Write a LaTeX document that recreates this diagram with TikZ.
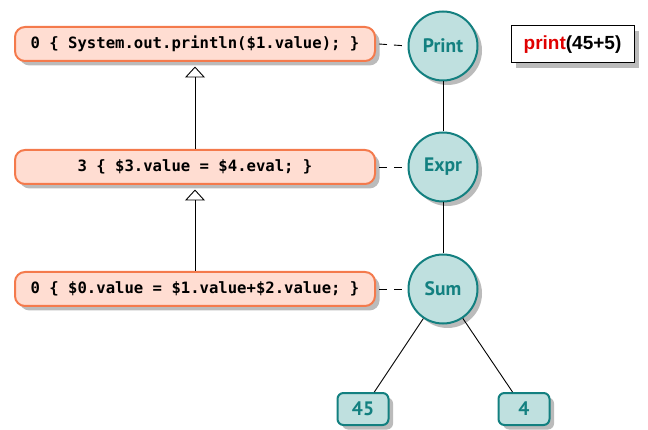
\documentclass[tikz,border=0pt]{standalone}
\usepackage{fontspec}
\setmainfont{Liberation Sans}
\newfontfamily\codefont{DejaVu Sans Mono}
\newfontfamily\nodefont{PT Sans}
\usetikzlibrary{shadows,arrows.meta,calc}
\definecolor{actfill}{HTML}{FFDDD2}
\definecolor{actedge}{HTML}{F47A4C}
\definecolor{treefill}{HTML}{BFE0DF}
\definecolor{treeedge}{HTML}{138080}
\definecolor{shade}{HTML}{BBBBBB}
\definecolor{kwred}{HTML}{E00000}
\tikzset{
  x=1pt, y=-1pt,
  myshadow/.style={drop shadow={shadow xshift=4.5pt, shadow yshift=-4.5pt, fill=shade, opacity=1}},
  action/.style={draw=actedge, fill=actfill, line width=2pt, rounded corners=10pt,
    minimum width=360pt, minimum height=34pt, inner sep=0pt, myshadow,
    font=\codefont\fontsize{15.6}{17}\selectfont\bfseries},
  treenode/.style={circle, draw=treeedge, fill=treefill, line width=2pt,
    minimum size=69pt, inner sep=0pt, myshadow, text=treeedge,
    font=\nodefont\fontsize{19.5}{21}\selectfont\bfseries},
  leaf/.style={draw=treeedge, fill=treefill, line width=2pt, rounded corners=6pt,
    minimum width=51pt, minimum height=32pt, inner sep=0pt, myshadow, text=treeedge,
    font=\nodefont\fontsize{19.5}{21}\selectfont\bfseries},
  link/.style={draw=black, line width=0.9pt},
  assoc/.style={draw=black, line width=0.9pt, dash pattern=on 8pt off 7pt},
  inherit/.style={draw=black, line width=0.9pt, -{Triangle[open, width=20pt, length=11pt]}},
}
\begin{document}
\begin{tikzpicture}
\useasboundingbox (0,0) rectangle (648,430);

% semantic actions
\node[action] (a1) at (195,44) {0 \{ System.out.println(\$1.value); \}};
\node[action] (a2) at (195,167) {3 \{ \$3.value = \$4.eval; \}};
\node[action] (a3) at (195,289) {0 \{ \$0.value = \$1.value+\$2.value; \}};

% syntax tree
\node[treenode] (print) at (443,46) {Print};
\node[treenode] (expr) at (443,167) {Expr};
\node[treenode] (sum) at (443,289) {Sum};
\node[leaf] (n45) at (363,409) {45};
\node[leaf] (n4) at (524,409) {4};

% source snippet
\node[draw=black, fill=white, line width=1pt, minimum width=123pt, minimum height=37pt,
  inner sep=0pt, drop shadow={shadow xshift=5pt, shadow yshift=-5pt, fill=shade, opacity=1},
  font=\fontsize{19}{21}\selectfont\bfseries] (src) at (572.5,44.5)
  {\textcolor{kwred}{print}(45+5)};

% tree edges
\draw[link] (print) -- (expr);
\draw[link] (expr) -- (sum);
\draw[link] (sum) -- (n45);
\draw[link] (sum) -- (n4);

% action to node associations
\draw[assoc] ($(a1.east)+(3,0)$) -- (print.west);
\draw[assoc] ($(a2.east)+(3,0)$) -- (expr.west);
\draw[assoc] ($(a3.east)+(3,0)$) -- (sum.west);

% action ordering: each action points up to the one run after it
\draw[inherit] (a2.north) -- ($(a1.south)+(0,4.5)$);
\draw[inherit] (a3.north) -- ($(a2.south)+(0,4.5)$);
\end{tikzpicture}
\end{document}
